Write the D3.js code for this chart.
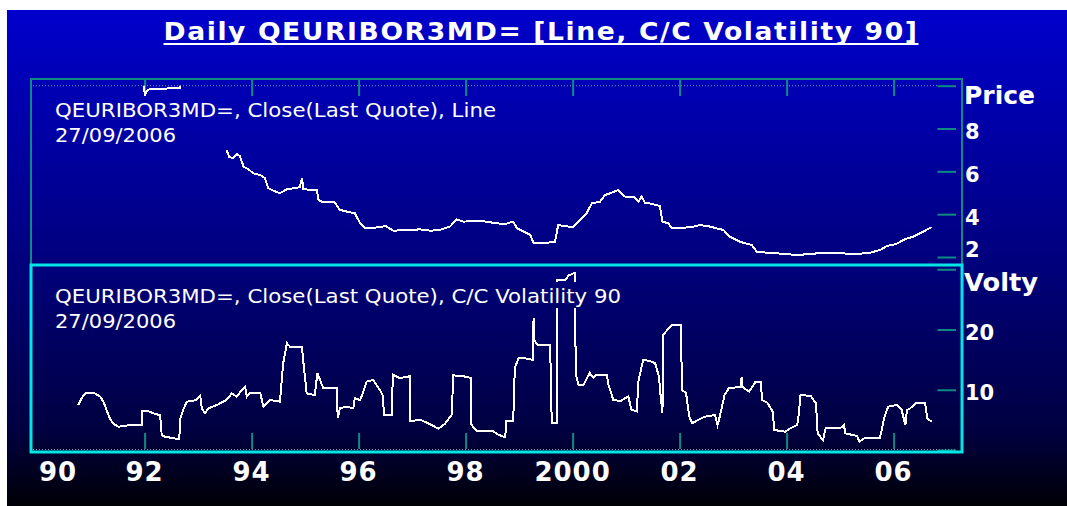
<!DOCTYPE html>
<html>
<head>
<meta charset="utf-8">
<script src="https://cdn.jsdelivr.net/npm/d3@7"></script>
<style>
  body { margin: 0; background: #fff; }
  svg { display: block; }
</style>
</head>
<body>
<svg id="chart" width="1067" height="506"></svg>
<script>
// price (close), null = no data
const priceDates = [1990.45, 1991.99, 1992.0, 1992.04, 1992.1, 1992.4, 1992.45, 1992.66, 1992.67, 1993.0, 1993.3,
  1993.53, 1993.56, 1993.58, 1993.66, 1993.72, 1993.78, 1993.85, 1993.94, 1994.03, 1994.16, 1994.25, 1994.31,
  1994.41, 1994.52, 1994.60, 1994.66, 1994.90, 1994.94, 1994.97, 1995.22, 1995.25, 1995.34, 1995.55, 1995.65,
  1995.78, 1995.93, 1996.03, 1996.12, 1996.40, 1996.50, 1996.65, 1996.90, 1997.15, 1997.33, 1997.50, 1997.71,
  1997.83, 1997.96, 1998.21, 1998.39, 1998.58, 1998.75, 1998.89, 1998.96, 1999.21, 1999.27, 1999.45, 1999.67,
  1999.73, 2000.01, 2000.14, 2000.26, 2000.36, 2000.51, 2000.61, 2000.73, 2000.85, 2000.98, 2001.15, 2001.23,
  2001.29, 2001.35, 2001.48, 2001.63, 2001.68, 2001.79, 2001.85, 2002.01, 2002.26, 2002.38, 2002.57, 2002.69,
  2002.82, 2002.94, 2003.13, 2003.35, 2003.44, 2003.63, 2004.00, 2004.19, 2004.72, 2005.31, 2005.56, 2005.75,
  2005.87, 2006.05, 2006.21, 2006.37, 2006.55, 2006.71];
const priceValues = [10.6, 10.6, 9.55, 9.75, 9.85, 9.85, 9.9, 9.9, 10.6, 10.6, null,
  7.00, 6.82, 6.68, 6.61, 6.81, 6.72, 6.22, 6.10, 5.91, 5.83, 5.68, 5.21,
  5.10, 4.98, 5.08, 5.16, 5.26, 5.68, 5.16, 5.13, 4.66, 4.55, 4.55, 4.20,
  4.12, 4.04, 3.57, 3.34, 3.39, 3.45, 3.23, 3.26, 3.29, 3.23, 3.25, 3.42,
  3.76, 3.65, 3.70, 3.65, 3.57, 3.55, 3.65, 3.34, 3.03, 2.64, 2.64, 2.71,
  3.49, 3.39, 3.73, 4.04, 4.51, 4.58, 4.90, 5.00, 5.13, 4.82, 4.82, 4.58,
  4.82, 4.54, 4.48, 4.38, 3.65, 3.57, 3.37, 3.34, 3.42, 3.49, 3.42, 3.34,
  3.26, 2.95, 2.71, 2.56, 2.25, 2.20, 2.14, 2.09, 2.20, 2.14, 2.20, 2.33,
  2.51, 2.61, 2.83, 2.95, 3.18, 3.39];

// C/C volatility 90
const volDates = [1990.76, 1990.82, 1990.89, 1991.07, 1991.17, 1991.23, 1991.29, 1991.35, 1991.42, 1991.51,
  1991.73, 1991.95, 1991.96, 1992.10, 1992.19, 1992.29, 1992.32, 1992.38, 1992.65, 1992.66, 1992.72, 1992.79,
  1992.97, 1993.04, 1993.07, 1993.13, 1993.19, 1993.35, 1993.53, 1993.63, 1993.72, 1993.82, 1993.88, 1993.91,
  1993.97, 1994.16, 1994.22, 1994.34, 1994.53, 1994.59, 1994.66, 1994.72, 1994.94, 1994.97, 1995.03, 1995.18,
  1995.23, 1995.28, 1995.34, 1995.59, 1995.61, 1995.65, 1995.78, 1995.90, 1995.93, 1996.03, 1996.09, 1996.15,
  1996.27, 1996.40, 1996.46, 1996.47, 1996.62, 1996.64, 1996.77, 1996.96, 1996.97, 1997.15, 1997.33, 1997.49,
  1997.61, 1997.74, 1997.77, 1997.96, 1998.10, 1998.11, 1998.21, 1998.52, 1998.61, 1998.74, 1998.76, 1998.89,
  1998.92, 1998.99, 1999.08, 1999.24, 1999.265, 1999.27, 1999.28, 1999.34, 1999.58, 1999.61, 1999.70, 1999.71,
  1999.87, 1999.93, 2000.04, 2000.06, 2000.11, 2000.20, 2000.32, 2000.39, 2000.45, 2000.64, 2000.67, 2000.76,
  2000.89, 2001.04, 2001.10, 2001.20, 2001.23, 2001.32, 2001.45, 2001.54, 2001.57, 2001.62, 2001.63, 2001.68,
  2001.69, 2001.75, 2001.85, 2002.03, 2002.04, 2002.12, 2002.18, 2002.24, 2002.34, 2002.47, 2002.66, 2002.71,
  2002.75, 2002.84, 2002.92, 2003.14, 2003.16, 2003.17, 2003.30, 2003.42, 2003.52, 2003.54, 2003.64, 2003.74,
  2003.77, 2003.97, 2004.07, 2004.20, 2004.23, 2004.26, 2004.45, 2004.55, 2004.58, 2004.68, 2004.73, 2005.00,
  2005.07, 2005.10, 2005.32, 2005.36, 2005.45, 2005.74, 2005.77, 2005.83, 2005.90, 2006.06, 2006.15, 2006.22,
  2006.25, 2006.31, 2006.42, 2006.59, 2006.63, 2006.71];
const volValues = [7.47, 8.58, 9.41, 9.41, 8.85, 8.02, 6.64, 5.26, 4.32, 3.87,
  4.15, 4.15, 6.53, 6.36, 5.98, 5.81, 2.49, 2.21, 1.78, 4.98, 6.64, 8.02,
  8.30, 8.97, 6.92, 6.09, 6.92, 7.47, 8.30, 9.41, 8.85, 9.96, 10.51, 8.85,
  9.51, 9.51, 7.19, 8.30, 8.02, 14.39, 17.72, 17.15, 17.15, 14.39, 9.41, 9.13,
  12.73, 11.62, 10.24, 10.24, 5.26, 6.92, 7.19, 6.92, 8.58, 8.30, 9.68, 11.34,
  11.62, 9.96, 8.85, 5.86, 5.86, 12.50, 11.95, 12.24, 4.77, 5.03, 4.32, 3.54,
  4.32, 5.86, 12.40, 12.24, 11.95, 4.20, 3.10, 3.10, 2.54, 2.11, 4.77, 4.77,
  13.61, 15.27, 15.27, 14.99, 14.99, 21.92, 18.31, 17.48, 17.48, 4.48, 4.48, 28.27,
  28.27, 29.0, 29.4, 12.50, 10.84, 10.74, 12.78, 11.95, 12.50, 12.50, 10.84, 8.35,
  8.09, 8.92, 6.69, 6.43, 11.41, 14.99, 14.73, 14.44, 13.61, 11.95, 10.29, 6.14,
  19.14, 19.71, 20.70, 20.70, 9.96, 9.51, 5.53, 4.43, 4.98, 5.53, 5.81, 4.15,
  5.53, 9.13, 10.24, 10.51, 12.17, 10.51, 9.68, 11.34, 11.34, 8.30, 7.85, 6.36,
  3.32, 3.04, 3.60, 4.15, 6.09, 9.13, 8.97, 7.75, 2.77, 1.66, 3.60, 3.60,
  4.15, 2.77, 2.32, 1.38, 1.94, 1.94, 3.04, 5.53, 7.19, 7.47, 6.64, 4.15,
  6.64, 6.92, 7.75, 7.75, 5.26, 4.70];

const yearTicks = [1990, 1992, 1994, 1996, 1998, 2000, 2002, 2004, 2006];
const yearLabels = ["90", "92", "94", "96", "98", "2000", "02", "04", "06"];
const priceTicks = [2, 4, 6, 8, 10];
const volTicks = [0, 10, 20, 30];

const titleText = "Daily QEURIBOR3MD= [Line, C/C Volatility 90]";
const priceLabel = ["QEURIBOR3MD=, Close(Last Quote), Line", "27/09/2006"];
const volLabel = ["QEURIBOR3MD=, Close(Last Quote), C/C Volatility 90", "27/09/2006"];

const TEAL = "#0f8a82";
const CYAN = "#00e6e6";
const FONT = "'DejaVu Sans', Verdana, sans-serif";

const svg = d3.select("#chart");
const defs = svg.append("defs");

let grad = defs.append("linearGradient")
    .attr("id", "bg")
    .attr("gradientUnits", "userSpaceOnUse")
    .attr("x1", 0).attr("y1", 10).attr("x2", 0).attr("y2", 506);
grad.append("stop").attr("offset", 0).attr("stop-color", "#0000cc");
grad.append("stop").attr("offset", 0.5).attr("stop-color", "#00007e");
grad.append("stop").attr("offset", 0.85).attr("stop-color", "#000040");
grad.append("stop").attr("offset", 1).attr("stop-color", "#000006");

svg.append("rect")
    .attr("x", 7).attr("y", 10).attr("width", 1060).attr("height", 496)
    .attr("fill", "url(#bg)");

// scales
const x = d3.scaleLinear().domain([1990, 2006]).range([37.6, 893.6]);
const yPrice = d3.scaleLinear().domain([2, 10]).range([257, 85.7]);
const yVol = d3.scaleLinear().domain([0, 30]).range([450, 269.3]);

// title
svg.append("text")
    .attr("x", 541).attr("y", 40)
    .attr("text-anchor", "middle")
    .attr("textLength", 755).attr("lengthAdjust", "spacingAndGlyphs")
    .style("font-family", FONT)
    .style("font-weight", "bold").style("font-size", "25px")
    .style("letter-spacing", "1.5px")
    .attr("fill", "#fff")
    .text(titleText);
svg.append("line")
    .attr("x1", 163.5).attr("x2", 918.5).attr("y1", 44).attr("y2", 44)
    .attr("stroke", "#fff").attr("stroke-width", 2);

// outer teal frame
svg.append("rect")
    .attr("x", 31).attr("y", 79).attr("width", 931).attr("height", 373)
    .attr("fill", "none").attr("stroke", TEAL).attr("stroke-width", 2);

// dotted guide lines
svg.append("line")
    .attr("x1", 33).attr("x2", 937).attr("y1", yPrice(10)).attr("y2", yPrice(10))
    .attr("stroke", "#8a90b0").attr("stroke-dasharray", "1,2");
svg.append("line")
    .attr("x1", 33).attr("x2", 955).attr("y1", yVol(0) - 0.5).attr("y2", yVol(0) - 0.5)
    .attr("stroke", "#8a90b0").attr("stroke-dasharray", "1,2");

function styleTicks(g) {
    g.select(".domain").remove();
    g.selectAll(".tick line").attr("stroke", TEAL).attr("stroke-width", 2);
    g.selectAll(".tick text").remove();
}

// x ticks, top panel (down from frame) and bottom panel (up from bottom)
svg.append("g")
    .attr("transform", "translate(0,80)")
    .call(d3.axisBottom(x).tickValues(yearTicks.slice(1)).tickSize(16).tickFormat(""))
    .call(styleTicks);
svg.append("g")
    .attr("transform", "translate(0,449)")
    .call(d3.axisTop(x).tickValues(yearTicks.slice(1)).tickSize(16).tickFormat(""))
    .call(styleTicks);

// x labels
svg.append("g")
    .selectAll("text")
    .data(yearTicks)
    .join("text")
    .attr("x", d => Math.max(x(d), 58))
    .attr("y", 481)
    .attr("text-anchor", "middle")
    .style("font-family", FONT)
    .style("font-weight", "bold").style("font-size", "26px")
    .style("letter-spacing", "1px")
    .attr("fill", "#fff")
    .text((d, i) => yearLabels[i]);

// y ticks on the right, inside the frame
svg.append("g")
    .attr("transform", "translate(956,0)")
    .call(d3.axisLeft(yPrice).tickValues(priceTicks).tickSize(18.5).tickFormat(""))
    .call(styleTicks);
svg.append("g")
    .attr("transform", "translate(956,0)")
    .call(d3.axisLeft(yVol).tickValues(volTicks).tickSize(18.5).tickFormat(""))
    .call(styleTicks);

const rightFont = g => g
    .style("font-family", FONT)
    .style("font-weight", "bold")
    .attr("fill", "#fff");

svg.append("g").selectAll("text")
    .data(priceTicks.filter(d => d < 10))
    .join("text")
    .attr("x", 965)
    .attr("y", d => Math.min(yPrice(d) + 10.5, 257))
    .style("font-size", "21px")
    .call(rightFont)
    .text(d => d);
svg.append("g").selectAll("text")
    .data(volTicks.filter(d => d > 0 && d < 30))
    .join("text")
    .attr("x", 965)
    .attr("y", d => yVol(d) + 10.5)
    .style("font-size", "21px")
    .call(rightFont)
    .text(d => d);
svg.append("text").attr("x", 964).attr("y", 104)
    .attr("textLength", 71).attr("lengthAdjust", "spacingAndGlyphs")
    .style("font-size", "24px").call(rightFont).text("Price");
svg.append("text").attr("x", 964).attr("y", 291)
    .attr("textLength", 74).attr("lengthAdjust", "spacingAndGlyphs")
    .style("font-size", "24px").call(rightFont).text("Volty");

// clip regions
defs.append("clipPath").attr("id", "clipPrice")
    .append("rect").attr("x", 32).attr("y", yPrice(10)).attr("width", 929).attr("height", 265 - yPrice(10));
defs.append("clipPath").attr("id", "clipVol")
    .append("rect").attr("x", 32).attr("y", 266).attr("width", 929).attr("height", 185);

const priceData = priceDates.map((d, i) => ({ t: d, v: priceValues[i] }));
const volData = volDates.map((d, i) => ({ t: d, v: volValues[i] }));

const priceLine = d3.line()
    .defined(d => d.v !== null)
    .x(d => x(d.t))
    .y(d => yPrice(d.v));
const volLine = d3.line()
    .x(d => x(d.t))
    .y(d => yVol(d.v));

svg.append("path")
    .datum(priceData)
    .attr("clip-path", "url(#clipPrice)")
    .attr("d", priceLine)
    .attr("fill", "none").attr("stroke", "#fff").attr("stroke-width", 2)
    .attr("shape-rendering", "crispEdges");
svg.append("path")
    .datum(volData)
    .attr("clip-path", "url(#clipVol)")
    .attr("d", volLine)
    .attr("fill", "none").attr("stroke", "#fff").attr("stroke-width", 2)
    .attr("shape-rendering", "crispEdges");

// panel labels sit on boxes painted with the backdrop
function panelLabel(lines, baseY, widths) {
    let g = svg.append("g");
    lines.forEach((s, i) => {
        g.append("rect")
            .attr("x", 50).attr("y", baseY + i * 25 - (i == 0 ? 21 : 20))
            .attr("width", widths[i] + 9).attr("height", i == 0 ? 26 : 25)
            .attr("fill", "url(#bg)");
        g.append("text")
            .attr("x", 55).attr("y", baseY + i * 25)
            .attr("textLength", widths[i]).attr("lengthAdjust", "spacingAndGlyphs")
            .style("font-family", FONT)
            .style("font-size", "19px")
            .attr("fill", "#fff")
            .text(s);
    });
}
panelLabel(priceLabel, 117, [441, 121]);
panelLabel(volLabel, 303, [566, 121]);

// cyan frame of the selected lower panel
svg.append("rect")
    .attr("x", 31).attr("y", 265).attr("width", 931).attr("height", 187)
    .attr("fill", "none").attr("stroke", CYAN).attr("stroke-width", 3);
</script>
</body>
</html>
